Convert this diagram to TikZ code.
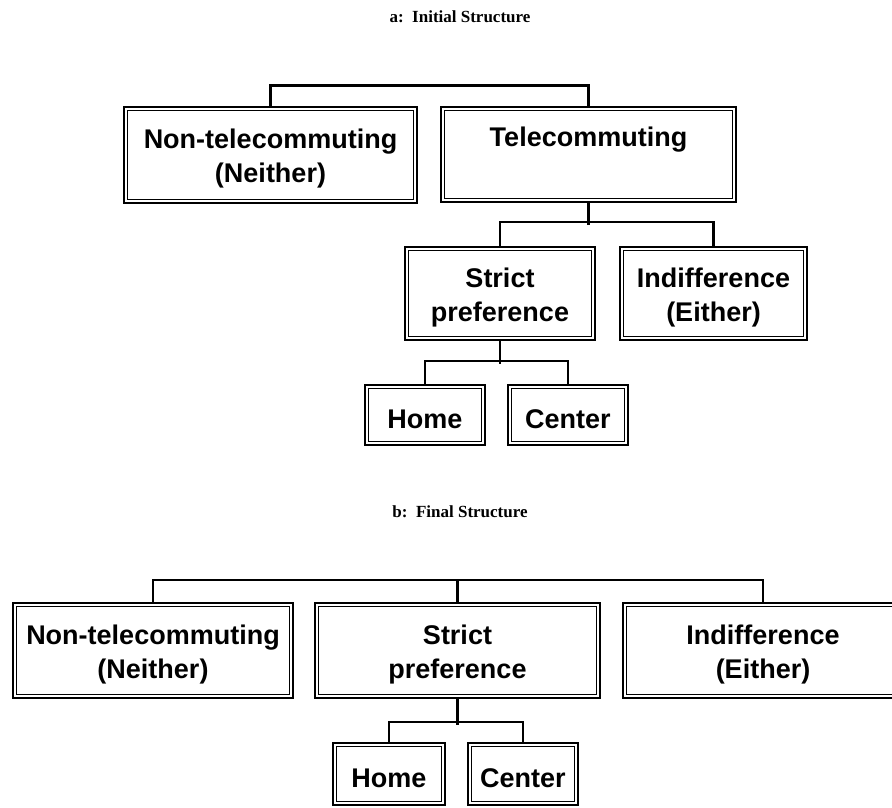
\documentclass[tikz,border=0pt]{standalone}
\usepackage{fontspec}
\setmainfont{Liberation Sans}
\newfontfamily\titlefont{Liberation Serif}
\begin{document}
\begin{tikzpicture}[x=1pt,y=-1pt,
  lab/.style={font=\bfseries\fontsize{27}{34}\selectfont, align=center, inner sep=0pt},
  ttl/.style={font=\titlefont\bfseries\fontsize{17}{20}\selectfont, inner sep=0pt},
  boxo/.style={draw, line width=2.4pt, inner sep=0pt, fill=white},
  boxi/.style={line width=1.1pt},
  conn/.style={line width=2.6pt, line cap=rect}]
\useasboundingbox (0,0) rectangle (892,808);
\clip (0,0) rectangle (892,808);
\newcommand\mybox[6]{%
  \node[boxo, minimum width={#4-#2}, minimum height={#5-#3}] (#1) at ({(#2+#4)/2},{(#3+#5)/2}) {};
  \draw[boxi] ([shift={(5,5)}]#1.north west) rectangle ([shift={(-5,-5)}]#1.south east);
  \node[lab] at ([yshift=-4pt]#1.center) {#6};
}
% titles
\node[ttl] (ta) at (460,17) {a:\ \ Initial Structure};
\node[ttl] (tb) at (460,512) {b:\ \ Final Structure};
% panel a
\mybox{nt}{124}{107}{417}{203}{Non-telecommuting\\(Neither)}
\mybox{tc}{441}{107}{736}{202}{Telecommuting\\\strut}
\mybox{sp}{405}{247}{595}{340}{Strict\\preference}
\mybox{ind}{620}{247}{807}{340}{Indifference\\(Either)}
\mybox{home}{365}{385}{485}{445}{Home}
\mybox{cen}{508}{385}{628}{445}{Center}
% panel b
\mybox{ntb}{13}{603}{293}{698}{Non-telecommuting\\(Neither)}
\mybox{spb}{315}{603}{600}{698}{Strict\\preference}
\mybox{indb}{623}{603}{903}{698}{Indifference\\(Either)}
\mybox{homeb}{333}{743}{445}{805}{Home}
\mybox{cenb}{468}{743}{578}{805}{Center}
% connectors a
\draw[conn] (nt.north) -- ++(0,-20) -| (tc.north);
\draw[conn] (tc.south) -- ++(0,20);
\draw[conn] (sp.north) -- ++(0,-24) -| (ind.north);
\draw[conn] (sp.south) -- ++(0,21);
\draw[conn] (home.north) -- ++(0,-23) -| (cen.north);
% connectors b
\draw[conn] (ntb.north) -- ++(0,-22) -| (indb.north);
\draw[conn] (spb.north) -- ++(0,-22);
\draw[conn] (spb.south) -- ++(0,24);
\draw[conn] (homeb.north) -- ++(0,-20) -| (cenb.north);
\end{tikzpicture}
\end{document}
